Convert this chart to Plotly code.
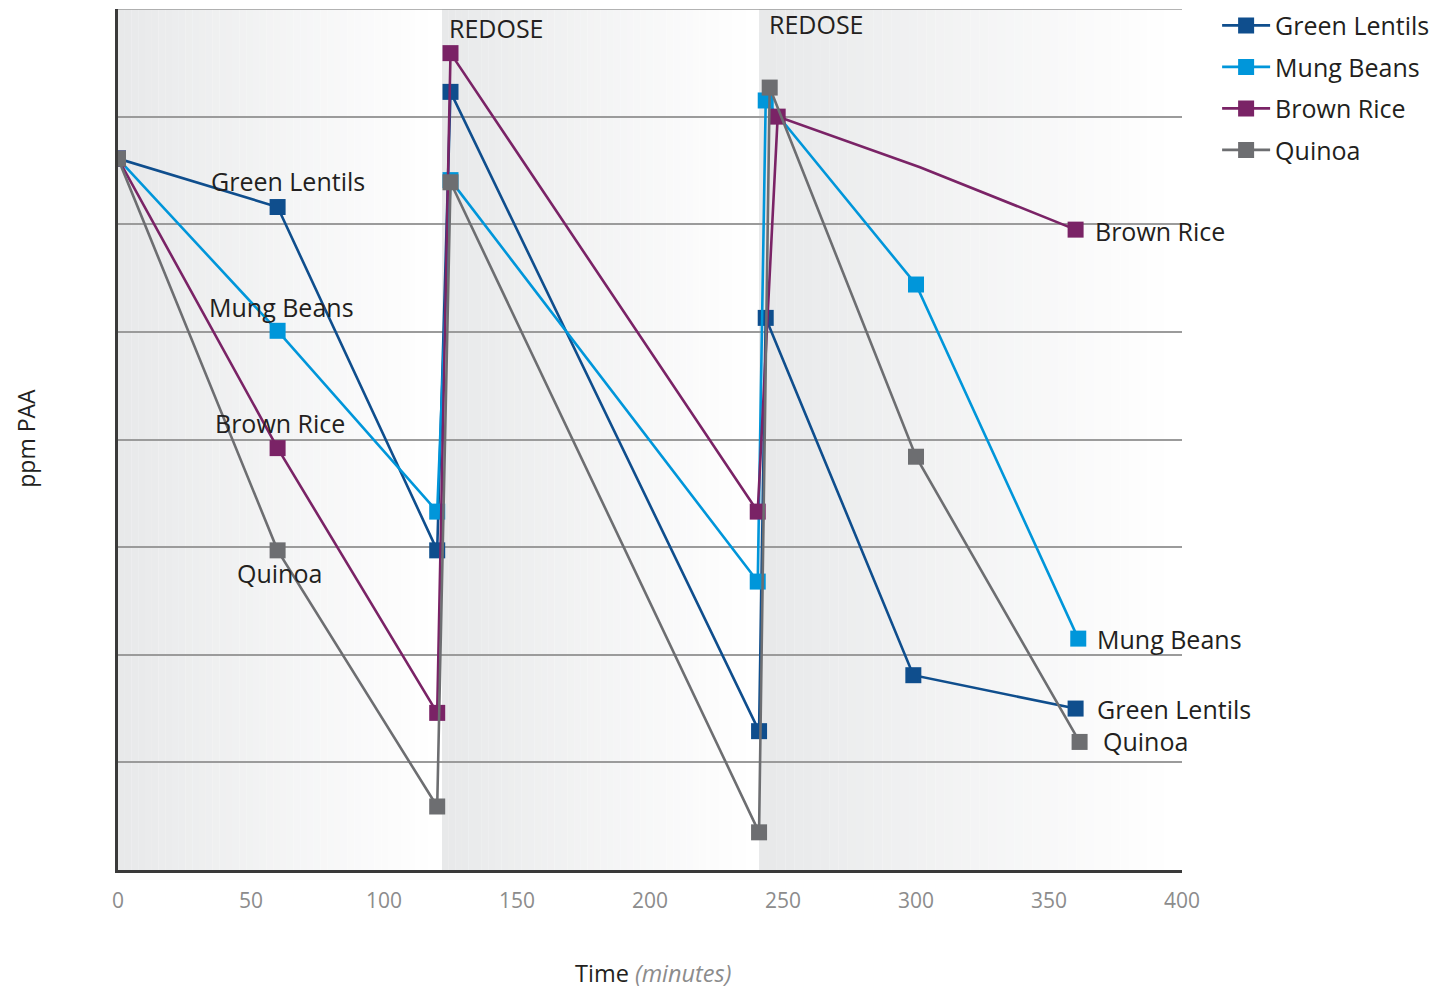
import plotly.graph_objects as go

# ---------------- data ----------------
series_names = ["Green Lentils", "Mung Beans", "Brown Rice", "Quinoa"]

green_lentils_t = [0, 60, 120, 125, 241, 243.5, 299, 360]
green_lentils_ppm = [66.1, 61.6, 29.7, 72.3, 12.9, 51.3, 18.1, 15.0]

mung_beans_t = [0, 60, 120, 125, 240.5, 243.5, 300, 361]
mung_beans_ppm = [66.1, 50.1, 33.3, 64.1, 26.8, 71.5, 54.4, 21.5]

brown_rice_t = [0, 60, 120, 125, 240.5, 248, 301.5, 360]
brown_rice_ppm = [66.1, 39.2, 14.6, 75.9, 33.3, 70.0, 65.3, 59.5]

quinoa_t = [0, 60, 120, 125, 241, 245, 300, 361.5]
quinoa_ppm = [66.1, 29.7, 5.9, 63.9, 3.5, 72.7, 38.4, 11.9]

redose_times = [121.8, 241.0]
x_ticks = [0, 50, 100, 150, 200, 250, 300, 350, 400]

# ---------------- styling ----------------
COLORS = {
    "Green Lentils": "#0f4e8d",
    "Mung Beans": "#0096da",
    "Brown Rice": "#7a2366",
    "Quinoa": "#6d6e71",
}
FONT = "Open Sans"
TEXT = "#231f20"
MSIZE = 16
LSIZE = 25

series = {
    "Green Lentils": (green_lentils_t, green_lentils_ppm),
    "Mung Beans": (mung_beans_t, mung_beans_ppm),
    "Brown Rice": (brown_rice_t, brown_rice_ppm),
    "Quinoa": (quinoa_t, quinoa_ppm),
}
# vertices drawn without a marker (bend of Brown Rice line)
no_marker = {"Brown Rice": [6]}

fig = go.Figure()
for name in series_names:
    t, v = series[name]
    hidden = no_marker.get(name, [])
    fig.add_trace(go.Scatter(
        x=t, y=v, mode="lines", name=name, legendgroup=name, showlegend=False,
        line=dict(color=COLORS[name], width=2.6), hoverinfo="skip",
    ))
    mx = [a for i, a in enumerate(t) if i not in hidden]
    my = [b for i, b in enumerate(v) if i not in hidden]
    fig.add_trace(go.Scatter(
        x=mx, y=my, mode="markers", name=name, legendgroup=name, showlegend=False,
        marker=dict(symbol="square", size=MSIZE, color=COLORS[name], line=dict(width=0)),
    ))
    fig.add_trace(go.Scatter(
        x=[None], y=[None], mode="lines+markers", name=name, legendgroup=name,
        line=dict(color=COLORS[name], width=2.6),
        marker=dict(symbol="square", size=MSIZE, color=COLORS[name], line=dict(width=0)),
    ))

# ---------------- gradient background bands ----------------
shapes = []
bounds = [0] + redose_times + [400]
N = 48
c0 = (232, 233, 234)
c1 = (255, 255, 255)
for a, b in zip(bounds[:-1], bounds[1:]):
    w = (b - a) / N
    for k in range(N):
        f = k / (N - 1)
        col = tuple(int(round(c0[j] + (c1[j] - c0[j]) * f)) for j in range(3))
        shapes.append(dict(
            type="rect", xref="x", yref="y", x0=a + k * w, x1=a + (k + 1) * w + 0.05,
            y0=0, y1=80, fillcolor="rgb(%d,%d,%d)" % col, line=dict(width=0), layer="below",
        ))
shapes.append(dict(type="line", xref="x", yref="y", x0=0, x1=400, y0=80, y1=80,
                   line=dict(color="#9b9b9b", width=1.5), layer="below"))

# ---------------- annotations ----------------
ann = []
def label(x, y, text, anchor="center", size=LSIZE):
    ann.append(dict(x=x, y=y, xref="x", yref="y", text=text, showarrow=False,
                    xanchor=anchor, yanchor="middle",
                    font=dict(family=FONT, size=size, color=TEXT)))

label(64, 64.0, "Green Lentils")
label(61.3, 52.3, "Mung Beans")
label(60.9, 41.5, "Brown Rice")
label(60.9, 27.6, "Quinoa")
label(366.5, 59.4, "Brown Rice", "left")
label(367.3, 21.5, "Mung Beans", "left")
label(367.3, 15.0, "Green Lentils", "left")
label(369.5, 12.0, "Quinoa", "left")
label(123.7, 78.2, "REDOSE", "left")
label(244.0, 78.6, "REDOSE", "left")

ann.append(dict(x=0.5027, y=-0.1196, xref="paper", yref="paper", showarrow=False,
                text="Time <i><span style='color:#8c8c8c'>(minutes)</span></i>",
                xanchor="center", yanchor="middle",
                font=dict(family=FONT, size=23.5, color=TEXT)))
ann.append(dict(x=-0.0865, y=0.502, xref="paper", yref="paper", showarrow=False,
                text="ppm PAA", textangle=-90, xanchor="center", yanchor="middle",
                font=dict(family=FONT, size=23, color=TEXT)))

fig.update_layout(
    width=1444, height=981,
    margin=dict(l=110, r=270, t=1, b=119, autoexpand=False),
    paper_bgcolor="white", plot_bgcolor="white",
    shapes=shapes, annotations=ann,
    font=dict(family=FONT, color=TEXT),
    legend=dict(
        x=1.033, y=1.0074, xanchor="left", yanchor="top",
        font=dict(family=FONT, size=LSIZE, color=TEXT),
        traceorder="grouped", tracegroupgap=6, itemwidth=48,
        bgcolor="rgba(0,0,0,0)",
    ),
    xaxis=dict(
        range=[0, 400], tickvals=x_ticks, showgrid=False, zeroline=False,
        showline=True, linecolor="#3a3a3a", linewidth=2.5,
        ticks="", tickfont=dict(family=FONT, size=21, color="#8c8c8c"),
        ticklabelstandoff=10,
    ),
    yaxis=dict(
        range=[0, 80], dtick=10, showticklabels=False, ticks="",
        showgrid=True, gridcolor="#9b9b9b", gridwidth=1.5, zeroline=False,
        showline=True, linecolor="#3a3a3a", linewidth=2.5,
    ),
)

fig.write_html("out.html")
